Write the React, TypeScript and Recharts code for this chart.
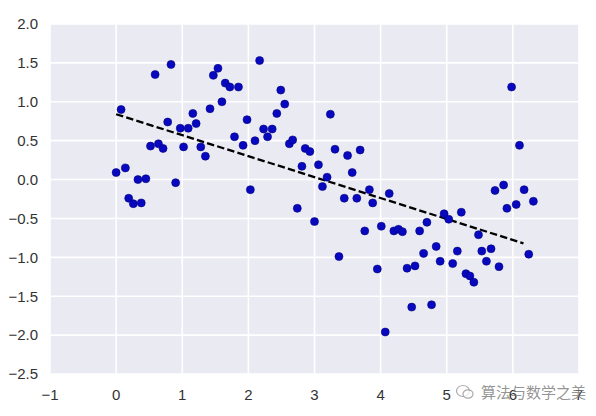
import React from "react";
import {
  ScatterChart,
  Scatter,
  XAxis,
  YAxis,
  CartesianGrid,
  ReferenceLine,
} from "recharts";

const xValues = [
  0.0, 0.075, 0.14, 0.19, 0.26, 0.38, 0.33, 0.45, 0.52, 0.59,
  0.64, 0.71, 0.78, 0.83, 0.9, 0.97, 1.02, 1.09, 1.16, 1.21,
  1.28, 1.35, 1.42, 1.47, 1.54, 1.6, 1.65, 1.72, 1.79, 1.85,
  1.92, 1.98, 2.03, 2.1, 2.17, 2.23, 2.29, 2.36, 2.43, 2.49,
  2.55, 2.62, 2.67, 2.74, 2.81, 2.86, 2.93, 3.0, 3.06, 3.12,
  3.19, 3.24, 3.31, 3.37, 3.45, 3.5, 3.57, 3.64, 3.69, 3.76,
  3.83, 3.88, 3.95, 4.01, 4.07, 4.13, 4.2, 4.27, 4.33, 4.4,
  4.47, 4.52, 4.59, 4.65, 4.7, 4.77, 4.84, 4.9, 4.96, 5.03,
  5.09, 5.16, 5.22, 5.29, 5.35, 5.41, 5.48, 5.53, 5.6, 5.67,
  5.73, 5.79, 5.86, 5.91, 5.98, 6.05, 6.1, 6.17, 6.24, 6.31,
];

const yValues = [
  0.09, 0.9, 0.15, -0.24, -0.31, -0.3, 0.0, 0.01, 0.43, 1.35,
  0.46, 0.4, 0.74, 1.48, -0.04, 0.66, 0.42, 0.66, 0.85, 0.72,
  0.42, 0.3, 0.91, 1.34, 1.43, 1.0, 1.24, 1.19, 0.55, 1.19,
  0.44, 0.77, -0.13, 0.5, 1.53, 0.65, 0.55, 0.65, 0.85, 1.15,
  0.97, 0.46, 0.51, -0.37, 0.17, 0.4, 0.36, -0.54, 0.19, -0.09,
  0.03, 0.84, 0.39, -0.99, -0.24, 0.31, 0.09, -0.24, 0.38, -0.66,
  -0.13, -0.3, -1.15, -0.6, -1.96, -0.18, -0.66, -0.64, -0.67, -1.14,
  -1.64, -1.11, -0.66, -0.95, -0.55, -1.61, -0.86, -1.05, -0.44, -0.51,
  -1.08, -0.92, -0.42, -1.21, -1.24, -1.32, -0.71, -0.92, -1.05, -0.89,
  -0.14, -1.12, -0.07, -0.37, 1.19, -0.32, 0.44, -0.13, -0.96, -0.28,
];

const fitX = [0, 6.16];
const fitY = [0.84, -0.82];

const xTicks = [-1, 0, 1, 2, 3, 4, 5, 6, 7];
const yTicks = [-2.5, -2.0, -1.5, -1.0, -0.5, 0.0, 0.5, 1.0, 1.5, 2.0];

const points = xValues.map((x, i) => ({ x, y: yValues[i] }));

const fmtY = (v: number) => {
  const s = Math.abs(v).toFixed(1);
  return v < 0 ? "\u2212" + s : s;
};
const fmtX = (v: number) => (v < 0 ? "\u2212" + Math.abs(v) : String(v));

const tickStyle = {
  fill: "#333333",
  fontSize: 15,
  fontFamily: "'Liberation Sans', Arial, sans-serif",
};

const Dot = (props: any) => {
  const { cx, cy } = props;
  if (cx == null || cy == null) return null;
  return <circle cx={cx} cy={cy} r={4} fill="#0808c0" stroke="#04047a" strokeWidth={0.6} />;
};

export default function App() {
  return (
    <div
      style={{
        position: "absolute",
        left: 0,
        top: 0,
        width: 596,
        height: 416,
        background: "#ffffff",
      }}
    >
      <ScatterChart
        width={596}
        height={416}
        margin={{ top: 24, right: 17, bottom: 0, left: 0 }}
      >
        <CartesianGrid
          fill="#EAEAF2"
          stroke="#ffffff"
          strokeWidth={1.6}
          horizontalValues={yTicks}
          verticalValues={xTicks}
        />
        <XAxis
          type="number"
          dataKey="x"
          domain={[-1, 7]}
          ticks={xTicks}
          tickFormatter={fmtX}
          axisLine={false}
          tickLine={false}
          tickMargin={9}
          height={42}
          tick={tickStyle}
          interval={0}
          allowDataOverflow
        />
        <YAxis
          type="number"
          dataKey="y"
          domain={[-2.5, 2.0]}
          ticks={yTicks}
          tickFormatter={fmtY}
          axisLine={false}
          tickLine={false}
          tickMargin={6}
          width={50}
          tick={tickStyle}
          interval={0}
          allowDataOverflow
        />
        <Scatter data={points} shape={Dot} isAnimationActive={false} />
        <ReferenceLine
          segment={[
            { x: fitX[0], y: fitY[0] },
            { x: fitX[1], y: fitY[1] },
          ]}
          stroke="#000000"
          strokeWidth={2.3}
          strokeDasharray="7.4 3.2"
          ifOverflow="visible"
        />
      </ScatterChart>
      <div
        style={{
          position: "absolute",
          left: 455,
          top: 381,
          display: "flex",
          alignItems: "center",
          gap: 6,
          fontFamily: "'Noto Sans CJK SC', sans-serif",
          fontSize: 15,
          color: "rgba(120,120,120,0.8)",
          whiteSpace: "nowrap",
        }}
      >
        <svg width="20" height="18" viewBox="0 0 20 18">
          <ellipse cx="8" cy="8" rx="6.5" ry="5.5" fill="none" stroke="rgba(150,150,150,0.8)" strokeWidth="1.2" />
          <ellipse cx="13" cy="11" rx="5" ry="4.2" fill="rgba(255,255,255,0.7)" stroke="rgba(150,150,150,0.8)" strokeWidth="1.2" />
        </svg>
        <span>算法与数学之美</span>
      </div>
    </div>
  );
}
